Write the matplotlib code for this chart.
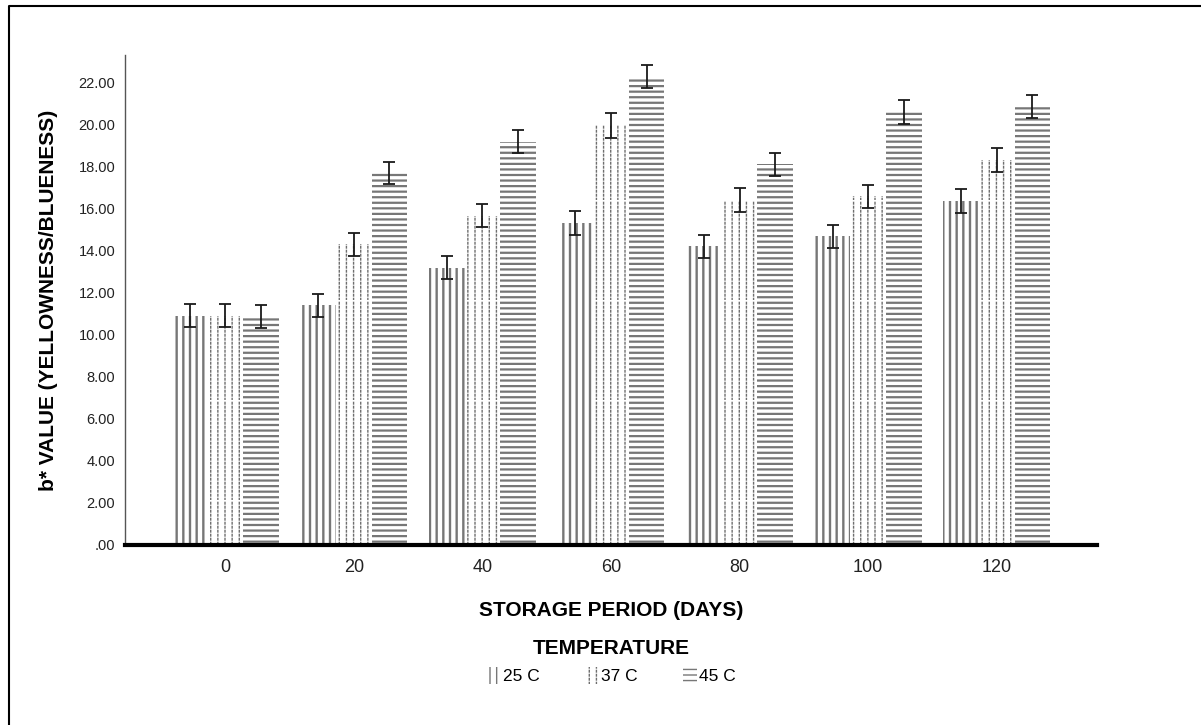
import warnings
import numpy as np
import matplotlib
matplotlib.use("Agg")
from matplotlib import pyplot as plt
from matplotlib import hatch as mhatch
from matplotlib.path import Path
from matplotlib.lines import Line2D

warnings.filterwarnings("ignore")

# ------------------------------------------------------------------
# data
# ------------------------------------------------------------------
days = ["0", "20", "40", "60", "80", "100", "120"]
temps = ["25 C", "37 C", "45 C"]

b_25 = [10.92, 11.41, 13.20, 15.34, 14.22, 14.70, 16.38]
b_37 = [10.92, 14.33, 15.68, 19.98, 16.43, 16.60, 18.33]
b_45 = [10.88, 17.72, 19.20, 22.30, 18.12, 20.62, 20.86]

err_25 = [0.56, 0.54, 0.55, 0.56, 0.55, 0.56, 0.55]
err_37 = [0.55, 0.55, 0.55, 0.58, 0.55, 0.55, 0.56]
err_45 = [0.55, 0.54, 0.55, 0.56, 0.55, 0.55, 0.55]

yticks = [0, 2, 4, 6, 8, 10, 12, 14, 16, 18, 20, 22]


# SPSS-like fills: 'I' solid vertical lines, ':' dotted vertical lines
class VLines(mhatch.HatchPatternBase):
    def __init__(self, hatch, density):
        self.dotted = ':' in hatch
        solid = 'I' in hatch
        self.num_lines = 14 if self.dotted else (15 if solid else 0)
        self.num_dots = 25 if self.dotted else 1
        self.num_vertices = self.num_lines * self.num_dots * 2

    def set_vertices_and_codes(self, vertices, codes):
        xs = (np.arange(self.num_lines) + 0.5) / self.num_lines
        ys = np.arange(self.num_dots) / self.num_dots
        seg = 0.4 / self.num_dots if self.dotted else 1.0
        X, Y = np.meshgrid(xs, ys, indexing='ij')
        X = X.ravel()
        Y = Y.ravel()
        vertices[0::2, 0] = X
        vertices[0::2, 1] = Y
        vertices[1::2, 0] = X
        vertices[1::2, 1] = Y + seg
        codes[0::2] = Path.MOVETO
        codes[1::2] = Path.LINETO


mhatch._hatch_types.append(VLines)

plt.rcParams['font.family'] = ['Liberation Sans', 'DejaVu Sans']

# ------------------------------------------------------------------
# plot
# ------------------------------------------------------------------
fig = plt.figure(figsize=(12.01, 7.25), dpi=100)
ax = fig.add_axes([125 / 1201, 1 - 545 / 725, 972 / 1201, 490 / 725])

x = np.arange(len(days))
w = 0.276
series = [
    (b_25, err_25, 'I', '#777777', 1.7, -0.277),
    (b_37, err_37, ':', '#6e6e6e', 1.0, 0.0),
    (b_45, err_45, '---', '#777777', 1.6, 0.277),
]

handles = []
for (vals, errs, hatch, col, hlw, off), lab in zip(series, temps):
    with plt.rc_context({'hatch.linewidth': hlw}):
        bars = ax.bar(x + off, vals, w, facecolor='white', edgecolor=col,
                      linewidth=0, hatch=hatch, label=lab, zorder=2)
    ax.errorbar(x + off, vals, yerr=errs, fmt='none', ecolor='#1a1a1a',
                elinewidth=1.3, capsize=4, capthick=1.3, zorder=3)
    handles.append(bars)

ax.set_xlim(-0.78, 6.78)
ax.set_ylim(0, 490 / 21)
ax.set_xticks(x)
ax.set_xticklabels(days, fontsize=13, color='#222222')
ax.set_yticks(yticks)
ax.set_yticklabels(['.00' if v == 0 else f'{v:.2f}' for v in yticks],
                   fontsize=10.5, color='#222222')
ax.tick_params(axis='x', length=0, pad=10)
ax.tick_params(axis='y', length=0, pad=7)

for s in ['top', 'right']:
    ax.spines[s].set_visible(False)
ax.spines['left'].set_color('#555555')
ax.spines['left'].set_linewidth(1.0)
ax.spines['bottom'].set_color('black')
ax.spines['bottom'].set_linewidth(3.0)
ax.spines['bottom'].set_zorder(4)

ax.set_xlabel('STORAGE PERIOD (DAYS)', fontsize=15, fontweight='bold')
ax.xaxis.set_label_coords(0.5, -0.114)
ax.set_ylabel('b* VALUE (YELLOWNESS/BLUENESS)', fontsize=15, fontweight='bold')
ax.yaxis.set_label_coords(-0.069, 0.5)

leg = ax.legend(handles=handles, labels=temps, title='TEMPERATURE', loc='center',
                bbox_to_anchor=(0.5, -0.238), ncol=3, frameon=False, fontsize=12.5,
                handlelength=0.8, handleheight=1.2, handletextpad=0.15,
                columnspacing=2.6)
leg.get_title().set_fontweight('bold')
leg.get_title().set_fontsize(15)

# outer frame: only the left and top edges are inside the image
fx = 9 / 1201
fy = 1 - 6 / 725
fig.add_artist(Line2D([fx, fx, 1.0], [0.0, fy, fy], transform=fig.transFigure,
                      color='black', linewidth=1.5))

fig.savefig('out.png', dpi=100)
